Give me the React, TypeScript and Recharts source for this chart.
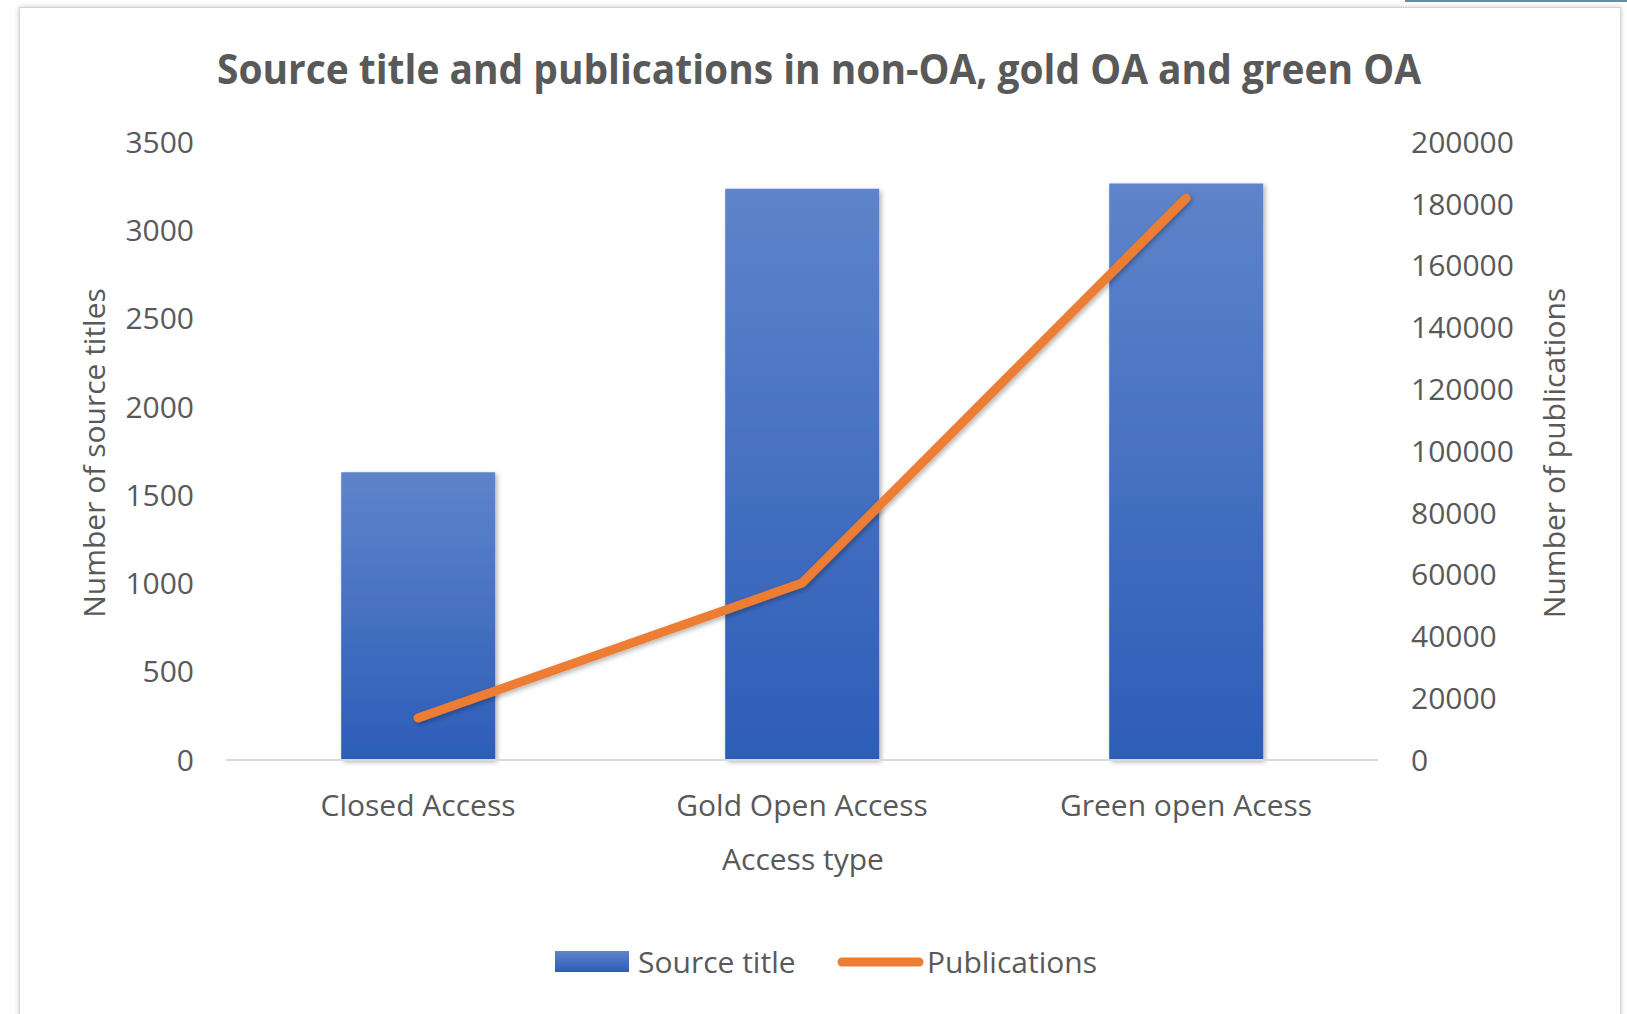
import React from 'react';
import { ComposedChart, Bar, Line, XAxis, YAxis } from 'recharts';

const categories = ['Closed Access', 'Gold Open Access', 'Green open Acess'];
const sourceTitles = [1630, 3235, 3265];
const publications = [13600, 57250, 181800];
const leftTicks = [0, 500, 1000, 1500, 2000, 2500, 3000, 3500];
const rightTicks = [0, 20000, 40000, 60000, 80000, 100000, 120000, 140000, 160000, 180000, 200000];

const data = categories.map((name, i) => ({
  name,
  sourceTitle: sourceTitles[i],
  publications: publications[i],
}));

const FONT = '"Open Sans", "Noto Sans", sans-serif';
const GRAY = '#595959';

const LeftTick = (props: any) => {
  const { x, y, payload } = props;
  return (
    <text x={x} y={y} dy={10.7} textAnchor="end" fontFamily={FONT} fontSize={30} fill={GRAY}>
      {payload.value}
    </text>
  );
};

const RightTick = (props: any) => {
  const { x, y, payload } = props;
  return (
    <text x={x} y={y} dy={10.7} textAnchor="start" fontFamily={FONT} fontSize={30} fill={GRAY}>
      {payload.value}
    </text>
  );
};

const BottomTick = (props: any) => {
  const { x, y, payload } = props;
  return (
    <text x={x} y={y} dy={46} textAnchor="middle" fontFamily={FONT} fontSize={30} fill={GRAY}>
      {payload.value}
    </text>
  );
};

export default function App() {
  return (
    <div style={{ position: 'absolute', left: 0, top: 0, width: 1627, height: 1014, background: '#fff', overflow: 'hidden' }}>
      <div style={{ position: 'absolute', left: 1405, top: 0, width: 222, height: 2, background: '#6a8aa0' }} />
      <div
        style={{
          position: 'absolute',
          left: 19,
          top: 7,
          width: 1600,
          height: 1010,
          border: '1px solid #d4d4d4',
          boxShadow: '0 0 5px rgba(0,0,0,0.22)',
          background: '#fff',
        }}
      />
      <div style={{ position: 'absolute', left: 0, top: 0 }}>
        <ComposedChart
          width={1627}
          height={1014}
          data={data}
          margin={{ top: 142, right: 129, bottom: 194, left: 126 }}
          barCategoryGap="30%"
        >
          <defs>
            <linearGradient id="barGrad" x1="0" y1="0" x2="0" y2="1">
              <stop offset="0%" stopColor="#5e84ca" />
              <stop offset="100%" stopColor="#2d5db8" />
            </linearGradient>
            <filter id="shadow" x="-20%" y="-20%" width="140%" height="140%">
              <feDropShadow dx="2" dy="2" stdDeviation="2.5" floodColor="#000" floodOpacity="0.3" />
            </filter>
          </defs>
          <XAxis
            dataKey="name"
            height={60}
            tickLine={false}
            axisLine={{ stroke: '#d9d9d9', strokeWidth: 2 }}
            tickSize={6}
            tickMargin={4}
            tick={<BottomTick />}
            interval={0}
            label={{
              content: () => (
                <text x={803} y={870} textAnchor="middle" fontFamily={FONT} fontSize={30} fill={GRAY}>
                  Access type
                </text>
              ),
            }}
          />
          <YAxis
            yAxisId="left"
            orientation="left"
            width={100}
            domain={[0, 3500]}
            ticks={leftTicks}
            tickLine={false}
            axisLine={false}
            tickSize={6}
            tickMargin={26}
            tick={<LeftTick />}
            label={{
              content: () => (
                <text
                  x={93}
                  y={453}
                  transform="rotate(-90 93 453)"
                  textAnchor="middle"
                  dominantBaseline="central"
                  fontFamily={FONT}
                  fontSize={30}
                  fill={GRAY}
                >
                  Number of source titles
                </text>
              ),
            }}
          />
          <YAxis
            yAxisId="right"
            orientation="right"
            width={120}
            domain={[0, 200000]}
            ticks={rightTicks}
            tickLine={false}
            axisLine={false}
            tickSize={6}
            tickMargin={27}
            tick={<RightTick />}
            label={{
              content: () => (
                <text
                  x={1553}
                  y={453}
                  transform="rotate(-90 1553 453)"
                  textAnchor="middle"
                  dominantBaseline="central"
                  fontFamily={FONT}
                  fontSize={30}
                  fill={GRAY}
                >
                  Number of publications
                </text>
              ),
            }}
          />
          <Bar
            yAxisId="left"
            dataKey="sourceTitle"
            fill="url(#barGrad)"
            filter="url(#shadow)"
            isAnimationActive={false}
          />
          <Line
            yAxisId="right"
            dataKey="publications"
            stroke="#ed7d31"
            strokeWidth={9}
            strokeLinecap="round"
            strokeLinejoin="round"
            dot={false}
            activeDot={false}
            filter="url(#shadow)"
            isAnimationActive={false}
          />
        </ComposedChart>
      </div>
      <svg width={1627} height={1014} style={{ position: 'absolute', left: 0, top: 0, pointerEvents: 'none' }}>
        <defs>
          <linearGradient id="legGrad" x1="0" y1="0" x2="0" y2="1">
            <stop offset="0%" stopColor="#5e84ca" />
            <stop offset="100%" stopColor="#2d5db8" />
          </linearGradient>
        </defs>
        <text
          x={819}
          y={84}
          textAnchor="middle"
          fontFamily={FONT}
          fontSize={42}
          fontWeight={700}
          fill={GRAY}
          textLength={1204}
          lengthAdjust="spacingAndGlyphs"
        >
          Source title and publications in non-OA, gold OA and green OA
        </text>
        <rect x={555} y={951} width={74} height={21} fill="url(#legGrad)" />
        <text x={638} y={973} fontFamily={FONT} fontSize={30} fill={GRAY}>
          Source title
        </text>
        <line x1={842} y1={962} x2={919} y2={962} stroke="#ed7d31" strokeWidth={9} strokeLinecap="round" />
        <text x={927} y={973} fontFamily={FONT} fontSize={30} fill={GRAY}>
          Publications
        </text>
      </svg>
    </div>
  );
}
